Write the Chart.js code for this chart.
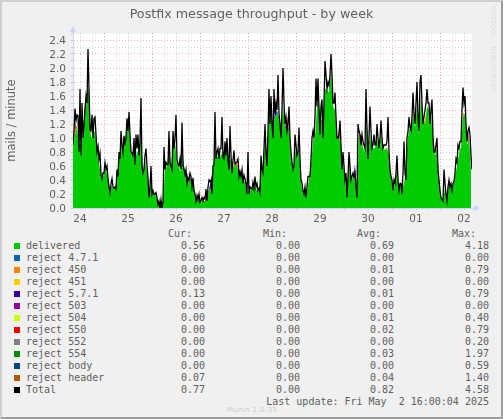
<!DOCTYPE html>
<html>
<head>
<meta charset="utf-8">
<script src="https://cdn.jsdelivr.net/npm/chart.js@4"></script>
<style>
    html, body { margin: 0; padding: 0; }
    body { width: 503px; height: 419px; overflow: hidden; background: #f0f0f0; position: relative; }
    #frame { position: absolute; left: 0; top: 0; width: 499px; height: 415px; border: 2px solid; border-color: #cfcfcf #9e9e9e #9e9e9e #cfcfcf; }
    #runChart { position: absolute; left: 0; top: 0; }
    #title { position: absolute; left: 0; top: 6px; width: 503px; text-align: center; font: 12.7px "DejaVu Sans", sans-serif; color: #606060; white-space: pre; }
    .mono { position: absolute; font: 10px "DejaVu Sans Mono", monospace; color: #606060; white-space: pre; line-height: 12px; }
    .swatch { position: absolute; width: 6px; height: 6px; }
    #rrd { position: absolute; left: 489px; top: 5px; font: 6.8px "DejaVu Sans", sans-serif; color: #dcdcdc; writing-mode: vertical-rl; white-space: pre; }
    #munin { position: absolute; left: 227px; top: 406px; font: 7px "DejaVu Sans", sans-serif; letter-spacing: .35px; color: #cccccc; white-space: pre; }
</style>
</head>
<body>
<div id="frame"></div>
<canvas id="runChart" width="503" height="228"></canvas>
<div id="title">Postfix message throughput - by week</div>
<div id="rrd">RRDTOOL / TOBI OETIKER</div>
<div id="munin">Munin 2.0.33</div>
<script>
// Day labels, centred on noon of each day
const dayLabels = ["24", "25", "26", "27", "28", "29", "30", "01", "02"];

// Total, one reading per half hour sample
const totalValues = [
    .9,1.1,1.42,1.25,1.33,1.32,.8,1.7,.75,1.5,1.0,1.2,1.4,1.6,1.5,2.27,1.7,1.12,1.1,1.33,1.0,1.28,1.3,1.05,.8,.88,.7,.78,.48,.42,.5,.5,.65,.55,.6,.42,.3,.22,.35,.42,
    .3,.28,.3,.27,.55,.45,.8,.7,1.1,.9,.8,1.03,.92,1.0,1.28,1.1,1.37,1.05,.8,.78,.75,1.0,.62,1.05,.85,1.05,.75,.95,1.57,.6,.5,.55,.75,.85,.6,.42,.15,.3,.6,.2,
    .25,.2,.2,.22,.15,.05,.1,0,.12,0,.1,.87,.55,.65,.62,.62,1.1,.65,.6,.55,1.1,.85,1.0,1.33,.7,.62,.6,.7,.55,1.22,.62,.55,.48,.55,.35,.42,.4,.5,.45,.3,
    .43,.25,.2,.1,.18,.12,.2,.08,.1,.15,.1,.15,.13,.27,.1,.3,.4,.38,.4,.2,.6,.62,1.37,.7,.8,.85,.7,.85,.85,1.3,.72,.7,.95,.75,1.0,.7,.55,1.17,.75,.5,
    .68,.82,.62,.65,.66,.7,.45,.52,.45,.55,.35,.47,.42,.35,.2,.8,.2,.3,.28,.27,.37,.28,.45,.3,.35,.25,.28,.22,.75,.55,.5,.85,1.2,.8,.6,1.1,1.7,1.2,1.6,1.2,
    1.0,1.7,1.35,1.5,1.4,1.9,1.35,1.2,1.0,1.4,2.0,1.5,1.2,1.3,1.1,1.2,1.45,1.0,.8,.65,.55,.6,1.05,.9,.75,.8,1.15,.7,.4,.35,.25,.2,.3,.15,.3,.45,.45,.45,.7,1.0,
    1.1,1.0,1.3,1.85,1.45,1.85,1.4,1.05,1.45,1.55,1.0,1.5,2.1,1.9,1.7,1.8,1.75,1.9,2.2,1.9,1.5,1.5,1.65,1.3,1.0,1.0,1.05,1.25,.9,.55,.8,.6,.4,.5,.15,.45,.8,.6,.4,.45,
    .5,.45,.5,.3,.15,1.2,1.1,1.05,.9,1.05,.95,.9,.85,1.7,1.1,.7,1.0,1.45,1.1,.85,.9,1.05,.9,.9,1.2,1.0,.85,1.0,1.25,1.0,.85,.9,.9,.9,.95,1.3,.8,.55,.45,.4,
    .25,.4,.35,.5,.75,.4,.25,.35,.35,.2,.5,.95,.5,.4,1.0,1.1,1.3,1.15,1.1,1.3,1.65,1.35,1.2,1.5,1.8,1.3,1.1,1.8,1.9,1.5,1.2,1.3,1.4,1.5,1.7,1.5,1.5,1.2,1.4,1.55,
    1.0,.8,.8,.9,1.0,.55,.4,.25,.15,.12,.1,.55,.35,.2,.1,.3,.4,.3,.35,.25,.35,.38,.5,.7,.65,.9,.85,.95,.95,1.4,1.72,1.5,1.6,1.2,.95,1.1,1.15,1.05,.75,.55
];

// Delivered, one reading per hour
const deliveredValues = [
    .85,1.05,1.15,.9,.9,1.05,1.35,1.55,1.7,1.0,1.05,1.1,.78,.66,.44,.45,.54,.5,.3,.32,
    .28,.26,.48,.7,.9,.82,.92,1.12,1.15,.76,.78,.66,.82,.76,1.05,.48,.7,.5,.18,.35,
    .2,.2,.12,.06,.06,.08,.55,.6,.85,.58,.85,.95,.62,.58,.52,.75,.46,.36,.4,.42,
    .33,.16,.14,.12,.08,.1,.1,.12,.25,.28,.55,.82,.74,.72,.76,.8,.85,.78,.62,.7,
    .58,.6,.6,.46,.45,.38,.38,.22,.24,.26,.28,.3,.25,.24,.62,.48,.95,.72,1.25,1.35,
    1.05,1.3,1.35,1.3,1.05,1.45,1.15,1.1,1.12,.72,.52,.85,.7,.85,.36,.22,.22,.22,.42,.6,
    .95,1.0,1.45,1.5,1.25,1.2,1.7,1.68,1.65,1.95,1.45,1.4,.98,1.0,.9,.62,.42,.14,.62,.38,
    .44,.42,.14,1.05,.92,.86,.8,1.2,.85,1.05,.85,.86,.98,.82,1.05,.82,.84,.86,.76,.44,
    .24,.34,.55,.24,.32,.3,.42,.85,1.15,1.05,1.35,1.15,1.45,1.05,1.6,1.2,1.2,1.45,1.4,1.35,
    .95,.75,.85,.42,.14,.09,.3,.09,.35,.28,.3,.45,.6,.78,.88,1.3,1.35,.9,1.0,.55
];

// Reject spikes: hour slot and height, all other hours are zero
const reject450Hours = [1, 50, 82, 148, 176, 195];
const reject450Values = [.06, .05, .06, .07, .06, .05];
const reject5571Hours = [57, 69, 101, 107, 141];
const reject5571Values = [.14, .14, .12, .1, .2];
const reject504Hours = [87, 154];
const reject504Values = [.03, .04];
const reject550Hours = [6, 67, 107, 138, 144, 187];
const reject550Values = [.16, .1, .1, .15, .12, .08];
const reject552Hours = [30, 120, 170];
const reject552Values = [.04, .05, .04];
const reject554Hours = [12, 60, 125];
const reject554Values = [.08, .06, .08];
const rejectBodyHours = [58, 102];
const rejectBodyValues = [.03, .04];
const rejectHeaderHours = [1, 7, 26, 84, 112, 133, 163, 180, 198];
const rejectHeaderValues = [.1, .1, .06, .08, .06, .1, .06, .1, .07];

// Legend table
const seriesNames = ["delivered", "reject 4.7.1", "reject 450", "reject 451", "reject 5.7.1", "reject 503", "reject 504", "reject 550", "reject 552", "reject 554", "reject body", "reject header", "Total"];
const seriesColors = ["#00cc00", "#0066b3", "#ff8000", "#ffcc00", "#330099", "#990099", "#ccff00", "#ff0000", "#808080", "#008f00", "#00487d", "#b35a00", "#000000"];
const curValues = ["0.56", "0.00", "0.00", "0.00", "0.13", "0.00", "0.00", "0.00", "0.00", "0.00", "0.00", "0.07", "0.77"];
const minValues = ["0.00", "0.00", "0.00", "0.00", "0.00", "0.00", "0.00", "0.00", "0.00", "0.00", "0.00", "0.00", "0.00"];
const avgValues = ["0.69", "0.00", "0.01", "0.00", "0.01", "0.00", "0.01", "0.02", "0.00", "0.03", "0.00", "0.04", "0.82"];
const maxValues = ["4.18", "0.00", "0.79", "0.00", "0.79", "0.00", "0.40", "0.79", "0.20", "1.97", "0.59", "1.40", "4.58"];

// Turn hour slots + heights into a full series on the hour grid
function hourlySeries(hours, values) {
    return deliveredValues.map((_, i) => {
        const at = hours.indexOf(i);
        return { x: i * 2, y: at >= 0 ? values[at] : 0 };
    });
}

const zeroHours = [];
const zeroValues = [];
const seriesData = [
    deliveredValues.map((v, i) => ({ x: i * 2, y: v })),
    hourlySeries(zeroHours, zeroValues),
    hourlySeries(reject450Hours, reject450Values),
    hourlySeries(zeroHours, zeroValues),
    hourlySeries(reject5571Hours, reject5571Values),
    hourlySeries(zeroHours, zeroValues),
    hourlySeries(reject504Hours, reject504Values),
    hourlySeries(reject550Hours, reject550Values),
    hourlySeries(reject552Hours, reject552Values),
    hourlySeries(reject554Hours, reject554Values),
    hourlySeries(rejectBodyHours, rejectBodyValues),
    hourlySeries(rejectHeaderHours, rejectHeaderValues)
];

const datasets = seriesData.map((data, i) => ({
    label: seriesNames[i],
    data: data,
    stack: "flow",
    backgroundColor: seriesColors[i],
    borderWidth: 0,
    pointRadius: 0,
    tension: 0,
    fill: i === 0 ? "origin" : "-1"
}));
datasets.push({
    label: "Total",
    data: totalValues.map((v, i) => ({ x: i, y: v })),
    stack: "total",
    borderColor: "#000000",
    borderWidth: 1.3,
    pointRadius: 0,
    tension: 0,
    fill: false,
    order: -1
});

const gridGray = "rgba(120, 120, 120, 0.28)";
const gridRed = "rgba(240, 70, 70, 0.4)";
const axisBlue = "#ccd4fa";

// White plot background and the little rrdtool axis arrows
const plotDecor = {
    id: "plotDecor",
    beforeDraw(chart) {
        const a = chart.chartArea, c = chart.ctx;
        c.save();
        c.fillStyle = "#ffffff";
        c.fillRect(a.left, a.top, a.right - a.left, a.bottom - a.top);
        c.restore();
    },
    afterDraw(chart) {
        const a = chart.chartArea, c = chart.ctx;
        c.save();
        c.strokeStyle = axisBlue;
        c.fillStyle = axisBlue;
        c.beginPath();
        c.moveTo(a.left, a.top);
        c.lineTo(a.left, a.top - 2);
        c.moveTo(a.right, a.bottom);
        c.lineTo(a.right + 2, a.bottom);
        c.stroke();
        c.beginPath();
        c.moveTo(a.left - 3, a.top - 1);
        c.lineTo(a.left + 3, a.top - 1);
        c.lineTo(a.left, a.top - 7);
        c.closePath();
        c.moveTo(a.right + 2, a.bottom - 3);
        c.lineTo(a.right + 2, a.bottom + 3);
        c.lineTo(a.right + 8, a.bottom);
        c.closePath();
        c.fill();
        c.restore();
    }
};

const ctx = document.getElementById("runChart").getContext("2d");
const runChart = new Chart(ctx, {
    type: "line",
    data: { datasets: datasets },
    plugins: [plotDecor],
    options: {
        responsive: false,
        animation: false,
        devicePixelRatio: 1,
        layout: { padding: { left: 0, right: 31, top: 33, bottom: 0 } },
        plugins: {
            legend: { display: false },
            tooltip: { enabled: false }
        },
        scales: {
            x: {
                type: "linear",
                min: 0,
                max: 399,
                afterBuildTicks(scale) {
                    const ticks = [];
                    for (let s = 7; s < 400; s += 12) ticks.push({ value: s });
                    scale.ticks = ticks;
                },
                afterFit(scale) {
                    scale.height = 20;
                    scale.paddingLeft = 0;
                    scale.paddingRight = 0;
                },
                grid: {
                    color: (c) => (c.tick && (c.tick.value - 31) % 48 === 0 ? gridRed : gridGray),
                    tickColor: (c) => (c.tick && (c.tick.value - 31) % 48 === 0 ? gridRed : gridGray),
                    tickLength: 2
                },
                border: { color: axisBlue, dash: [1, 2] },
                ticks: {
                    autoSkip: false,
                    maxRotation: 0,
                    padding: 3,
                    color: "#606060",
                    font: { family: "DejaVu Sans", size: 10.5 },
                    callback: (v) => ((v - 7) % 48 === 0 ? dayLabels[(v - 7) / 48] : "")
                }
            },
            y: {
                stacked: true,
                min: 0,
                max: 2.5,
                title: {
                    display: true,
                    text: "mails / minute",
                    color: "#606060",
                    font: { family: "DejaVu Sans", size: 11.5 },
                    padding: { top: 5, bottom: 0 }
                },
                afterFit(scale) {
                    scale.width = 73;
                    scale.paddingTop = 0;
                    scale.paddingBottom = 0;
                },
                grid: {
                    color: (c) => (c.tick && Math.round(c.tick.value * 10) % 2 === 0 && c.tick.value < 2.45 && c.tick.value > 0 ? gridRed : gridGray),
                    tickLength: 2
                },
                border: { color: axisBlue, dash: [1, 2] },
                ticks: {
                    stepSize: 0.1,
                    autoSkip: false,
                    padding: 5,
                    labelOffset: 1,
                    color: "#606060",
                    font: { family: "DejaVu Sans", size: 10.5 },
                    callback: (v) => (Math.round(v * 10) % 2 === 0 ? v.toFixed(1) : "")
                }
            }
        }
    }
});

// Legend below the plot, plain text rows
function addText(text, rightEdge, centerY, leftEdge) {
    const el = document.createElement("div");
    el.className = "mono";
    el.textContent = text;
    el.style.top = (centerY - 5) + "px";
    if (leftEdge !== undefined) el.style.left = leftEdge + "px";
    else el.style.right = (503 - rightEdge) + "px";
    document.body.appendChild(el);
}

["Cur:", "Min:", "Avg:", "Max:"].forEach((h, i) => addText(h, [192, 287, 381, 476][i], 233));
seriesNames.forEach((name, i) => {
    const y = 245 + i * 12;
    const box = document.createElement("div");
    box.className = "swatch";
    box.style.left = "14px";
    box.style.top = (y - 2) + "px";
    box.style.background = seriesColors[i];
    document.body.appendChild(box);
    addText(name, 0, y, 26);
    addText(curValues[i], 205, y);
    addText(minValues[i], 300, y);
    addText(avgValues[i], 394, y);
    addText(maxValues[i], 489, y);
});
addText("Last update: Fri May  2 16:00:04 2025", 489, 401);
</script>
</body>
</html>
